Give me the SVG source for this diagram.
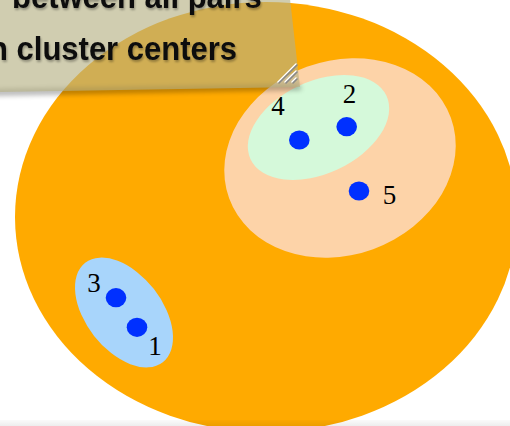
<svg xmlns="http://www.w3.org/2000/svg" width="510" height="426" viewBox="0 0 510 426">
<defs>
<style>
.pt{fill:#0030FF}
.lbl{font-family:"Liberation Serif","Times New Roman",serif;font-size:27px;fill:#000;text-anchor:middle}
.note{font-family:"Liberation Sans",Arial,sans-serif;font-weight:bold;font-size:31px;fill:#111}
.grip{stroke-width:1.6;stroke-linecap:round}
</style>
<filter id="sh" x="-10%" y="-100%" width="120%" height="300%"><feGaussianBlur stdDeviation="2.5"/></filter>
<filter id="tsh" x="-5%" y="-20%" width="110%" height="150%"><feGaussianBlur in="SourceAlpha" stdDeviation="1.2"/><feOffset dx="1" dy="1.5"/><feComponentTransfer><feFuncA type="linear" slope="0.3"/></feComponentTransfer><feMerge><feMergeNode/><feMergeNode in="SourceGraphic"/></feMerge></filter>
<linearGradient id="bot" x1="0" y1="0" x2="0" y2="1"><stop offset="0" stop-color="#000" stop-opacity="0.02"/><stop offset="1" stop-color="#000" stop-opacity="0.07"/></linearGradient>
</defs>
<rect width="510" height="426" fill="#fff"/>
<g id="cluster-all"><ellipse cx="266" cy="217" rx="251" ry="215" fill="#FFAA00"/></g>
<g id="cluster-245"><ellipse cx="340" cy="158" rx="118" ry="97" transform="rotate(-20 340 158)" fill="#FDD3A8"/></g>
<g id="cluster-24"><ellipse cx="318.5" cy="127.5" rx="75" ry="46" transform="rotate(-25 318.5 127.5)" fill="#D5F9DA"/></g>
<g id="cluster-13"><ellipse cx="124" cy="312.5" rx="63" ry="38" transform="rotate(52 124 312.5)" fill="#A8D5FB"/></g>
<g id="p1"><ellipse class="pt" cx="137" cy="327.3" rx="10.3" ry="9.6"/><text class="lbl" x="155" y="355">1</text></g>
<g id="p2"><ellipse class="pt" cx="346.7" cy="126.7" rx="10.3" ry="9.6"/><text class="lbl" x="349.5" y="103">2</text></g>
<g id="p3"><ellipse class="pt" cx="116" cy="297.7" rx="10.3" ry="9.6"/><text class="lbl" x="94" y="292">3</text></g>
<g id="p4"><ellipse class="pt" cx="299.3" cy="140" rx="10.3" ry="9.6"/><text class="lbl" x="278" y="115">4</text></g>
<g id="p5"><ellipse class="pt" cx="359" cy="191" rx="10.3" ry="9.6"/><text class="lbl" x="389.5" y="204">5</text></g>
<g id="connectors"/>
<g id="note">
<polygon points="-10,89 299,84 302,90 -10,96" fill="#000" opacity="0.28" filter="url(#sh)"/>
<polygon points="-10,-10 289,-10 300,87 0,92 -10,92" fill="rgb(181,176,131)" fill-opacity="0.64"/>
<text class="note" x="12" y="7" transform="scale(1,1.1)" filter="url(#tsh)">between all pairs</text>
<text class="note" x="-11" y="54.5" transform="scale(1,1.1)" filter="url(#tsh)">n cluster centers</text>
<g class="grip">
<line x1="278" y1="82" x2="296" y2="64" stroke="#fff"/><line x1="279" y1="83" x2="297" y2="65" stroke="#888"/>
<line x1="285" y1="82" x2="296" y2="71" stroke="#fff"/><line x1="286" y1="83" x2="297" y2="72" stroke="#888"/>
<line x1="292" y1="82" x2="296" y2="78" stroke="#fff"/><line x1="293" y1="83" x2="297" y2="79" stroke="#888"/>
</g>
</g>
<rect x="0" y="420" width="510" height="6" fill="url(#bot)"/>
</svg>
